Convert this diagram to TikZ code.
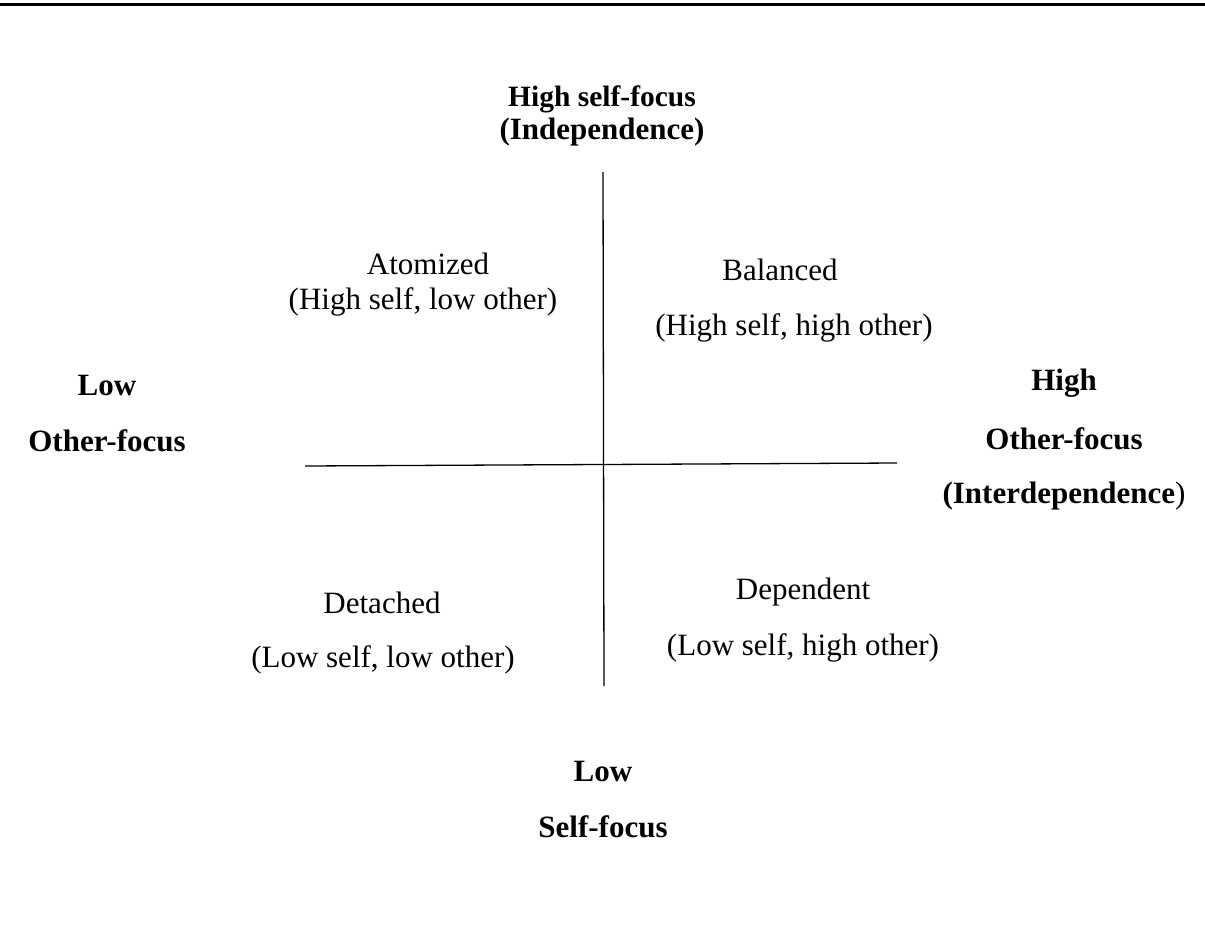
\documentclass[tikz,border=0pt]{standalone}
\usepackage{fontspec}
\setmainfont{Liberation Serif}
\begin{document}
\begin{tikzpicture}[x=1pt,y=-1pt,
  lbl/.style={anchor=base,inner sep=0pt,font=\fontsize{31}{37}\selectfont},
  blbl/.style={anchor=base,inner sep=0pt,font=\fontsize{31}{37}\selectfont\bfseries},
  axis/.style={line width=1.3pt,black}]
\useasboundingbox (0,0) rectangle (1205,927);
% top rule
\coordinate (rl) at (0,4);
\coordinate (rr) at (1205,4);
\draw[line width=3pt] (rl) -- (rr);
% axes
\coordinate (vt) at (603,172);
\coordinate (vb) at (604,686);
\coordinate (hl) at (305,466);
\coordinate (hr) at (897,463);
\draw[axis] (vt) -- (vb);
\draw[axis] (hl) -- (hr);
% top label
\node[blbl,font=\fontsize{29.5}{35}\selectfont\bfseries] (t1) at (602,106) {High self-focus};
\node[blbl] (t2) at (602,139) {(Independence)};
% quadrant labels
\node[lbl] (a1) at (428,274) {Atomized};
\node[lbl] (a2) at (423,309) {(High self, low other)};
\node[lbl] (b1) at (780,280) {Balanced};
\node[lbl] (b2) at (794,335) {(High self, high other)};
\node[lbl] (d1) at (382,613) {Detached};
\node[lbl] (d2) at (383,667) {(Low self, low other)};
\node[lbl] (e1) at (803,599) {Dependent};
\node[lbl] (e2) at (803,655) {(Low self, high other)};
% left label
\node[blbl] (l1) at (107,395) {Low};
\node[blbl] (l2) at (107,451) {Other-focus};
% right label
\node[blbl] (r1) at (1064,390) {High};
\node[blbl] (r2) at (1064,449) {Other-focus};
\node[lbl] (r3) at (1064,503) {\textbf{(Interdependence})};
% bottom label
\node[blbl] (s1) at (603,781) {Low};
\node[blbl] (s2) at (603,837) {Self-focus};
\end{tikzpicture}
\end{document}
